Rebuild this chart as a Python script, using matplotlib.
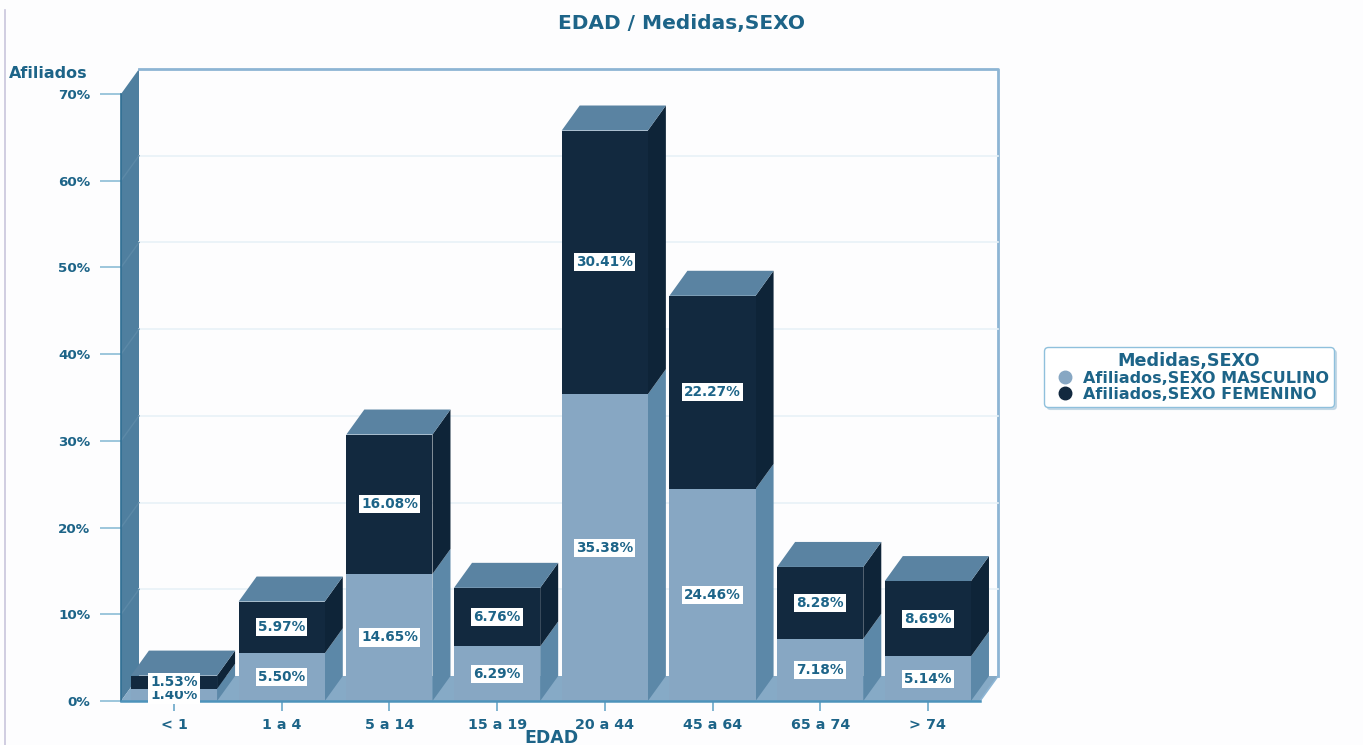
import matplotlib
matplotlib.use('Agg')
import matplotlib.pyplot as plt
from matplotlib.lines import Line2D

# datos
edades = ['< 1', '1 a 4', '5 a 14', '15 a 19', '20 a 44', '45 a 64', '65 a 74', '> 74']
masculino = [1.40, 5.50, 14.65, 6.29, 35.38, 24.46, 7.18, 5.14]
femenino = [1.53, 5.97, 16.08, 6.76, 30.41, 22.27, 8.28, 8.69]
yticks = [0, 10, 20, 30, 40, 50, 60, 70]

W, H = 1363, 745
TEXTO = '#1d6488'
C_MASC, C_MASC_LADO = '#87a7c3', '#5c88a8'
C_FEM, C_FEM_LADO = '#12293f', '#0e2438'
C_TECHO = '#5a83a2'
C_PARED = '#4f7f9f'
C_PISO = '#86aac6'
C_BORDE = '#8db5d4'

plt.rcParams['font.family'] = ['DejaVu Sans']
fig = plt.figure(figsize=(W / 100, H / 100), dpi=100, facecolor='#fdfdfe')

# el plano frontal del grafico, en pixeles de la imagen
izq, der, arriba, abajo = 121, 980, 94, 701
ax = fig.add_axes([izq / W, 1 - abajo / H, (der - izq) / W, (abajo - arriba) / H])
paso = 107.7
centro0 = 174
ax.set_xlim((izq - centro0) / paso, (der - centro0) / paso)
ax.set_ylim(0, 70)
ax.patch.set_visible(False)
for s in ax.spines.values():
    s.set_visible(False)

# profundidad 3D en unidades de datos
dx = 18 / paso
dy = 25 / ((abajo - arriba) / 70)
x0, x1 = ax.get_xlim()
ancho = 0.8

# pared izquierda, piso y borde del fondo
ax.fill([x0, x0 + dx, x0 + dx, x0], [0, dy, 70 + dy, 70], color=C_PARED, lw=0, clip_on=False, zorder=1)
ax.fill([x0, x0 + dx, x1 + dx, x1], [0, dy, dy, 0], color=C_PISO, lw=0, clip_on=False, zorder=1)
ax.plot([x0 + dx, x1 + dx, x1 + dx], [70 + dy, 70 + dy, dy], color=C_BORDE, lw=2, clip_on=False, zorder=1)
ax.plot([x1 + dx, x1], [dy, 0], color=C_BORDE, lw=1.2, clip_on=False, zorder=1)
for t in yticks[1:-1]:
    ax.plot([x0 + dx, x1 + dx], [t + dy, t + dy], color='#e8f2f7', lw=1.2, clip_on=False, zorder=1)
    ax.plot([x0, x0 + dx], [t, t + dy], color='#5c89a7', lw=1, clip_on=False, zorder=1.5)
ax.plot([x0, x1], [0, 0], color='#4d93bb', lw=1.8, clip_on=False, zorder=6)
ax.plot([x0, x0], [0, 70], color='#2f6f94', lw=1.2, clip_on=False, zorder=2)

xs = list(range(len(edades)))
ax.bar(xs, masculino, ancho, color=C_MASC, zorder=4)
ax.bar(xs, femenino, ancho, bottom=masculino, color=C_FEM, zorder=4)

for i in xs:
    a = i - ancho / 2
    b = i + ancho / 2
    m = masculino[i]
    t = m + femenino[i]
    ax.fill([b, b + dx, b + dx, b], [0, dy, m + dy, m], color=C_MASC_LADO, lw=0, clip_on=False, zorder=3)
    ax.fill([b, b + dx, b + dx, b], [m, m + dy, t + dy, t], color=C_FEM_LADO, lw=0, clip_on=False, zorder=3)
    ax.fill([a, a + dx, b + dx, b], [t, t + dy, t + dy, t], color=C_TECHO, lw=0, clip_on=False, zorder=3)
    for val, y in ((m, m / 2), (femenino[i], m + femenino[i] / 2)):
        ax.text(i, y, '%.2f%%' % val, ha='center', va='center', fontsize=9.8, fontweight='bold',
                color=TEXTO, zorder=7,
                bbox=dict(boxstyle='square,pad=0.15', fc='white', ec='none'))

ax.set_xticks(xs)
ax.set_xticklabels(edades)
ax.set_yticks(yticks)
ax.set_yticklabels(['%d%%' % t for t in yticks])
ax.tick_params(axis='y', length=15, width=1.4, color='#9cc6dc', pad=7, labelsize=9.7, labelcolor=TEXTO)
ax.tick_params(axis='x', length=7, width=1.4, color='#7fb4d0', pad=5, labelsize=10.3, labelcolor=TEXTO)
for lab in ax.get_xticklabels() + ax.get_yticklabels():
    lab.set_fontweight('bold')

# textos sueltos
fig.text(682 / W, 1 - 23 / H, 'EDAD / Medidas,SEXO', ha='center', va='center', fontsize=14.5,
         fontweight='bold', color=TEXTO)
fig.text(48 / W, 1 - 73 / H, 'Afiliados', ha='center', va='center', fontsize=11.5,
         fontweight='bold', color=TEXTO)
fig.text(551 / W, 1 - 738 / H, 'EDAD', ha='center', va='center', fontsize=12.5,
         fontweight='bold', color=TEXTO)

# linea izquierda de la captura
fig.add_artist(Line2D([5 / W, 5 / W], [0, 1 - 10 / H], color='#c9c5dc', lw=1.2))

handles = [
    Line2D([], [], ls='', marker='o', ms=9, color=C_MASC, label='Afiliados,SEXO MASCULINO'),
    Line2D([], [], ls='', marker='o', ms=9, color=C_FEM, label='Afiliados,SEXO FEMENINO'),
]
leg = fig.legend(handles=handles, title='Medidas,SEXO', loc='center',
                 bbox_to_anchor=(1189 / W, 1 - 377 / H), frameon=True, fancybox=True,
                 shadow={'color': '#b5cfe0', 'alpha': 0.7},
                 edgecolor='#8fc0dc', facecolor='white', framealpha=1, fontsize=11.5,
                 title_fontproperties={'size': 12.7, 'weight': 'bold'},
                 labelspacing=0.05, handletextpad=0.1, borderpad=0.3, borderaxespad=0)
leg.get_title().set_color(TEXTO)
for txt in leg.get_texts():
    txt.set_color(TEXTO)
    txt.set_fontweight('bold')

fig.savefig('out.png', dpi=100, facecolor=fig.get_facecolor())
